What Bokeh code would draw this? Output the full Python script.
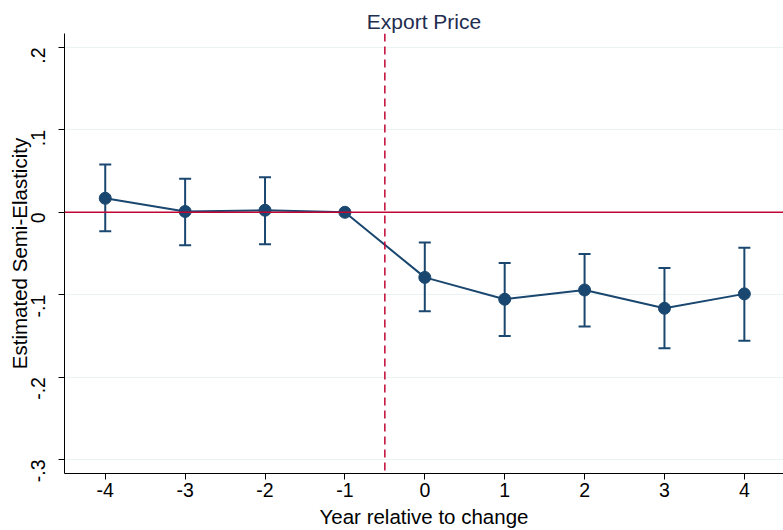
import math
from bokeh.plotting import figure
from bokeh.models import Range1d, FixedTicker, ColumnDataSource, Whisker, TeeHead, Span
from bokeh.embed import file_html
from bokeh.resources import INLINE

# Data
years = [-4, -3, -2, -1, 0, 1, 2, 3, 4]
coef = [0.017, 0.001, 0.0025, 0.0, -0.079, -0.1055, -0.0943, -0.1165, -0.099]
ci_low = [-0.023, -0.040, -0.0387, None, -0.120, -0.150, -0.1386, -0.165, -0.156]
ci_high = [0.058, 0.0406, 0.0425, None, -0.0366, -0.0614, -0.0506, -0.0675, -0.043]
y_ticks = [-0.3, -0.2, -0.1, 0.0, 0.1, 0.2]
y_tick_labels = ["-.3", "-.2", "-.1", "0", ".1", ".2"]
x_ticks = [-4, -3, -2, -1, 0, 1, 2, 3, 4]
x_tick_labels = ["-4", "-3", "-2", "-1", "0", "1", "2", "3", "4"]
title_text = "Export Price"
x_label = "Year relative to change"
y_label = "Estimated Semi-Elasticity"
event_line = -0.5

NAVY = "#1a476f"
RED = "#c10534"
FONT = "Liberation Sans"

p = figure(width=783, height=530, output_backend="svg", toolbar_location=None,
           x_range=Range1d(-4.51, 4.49), y_range=Range1d(-0.317, 0.217),
           min_border_left=64, min_border_right=0, min_border_bottom=53, min_border_top=33)
p.outline_line_color = None
p.background_fill_color = "white"
p.border_fill_color = "white"

p.title.text = title_text
p.title.align = "center"
p.title.text_font = FONT
p.title.text_font_size = "21px"
p.title.text_font_style = "normal"
p.title.text_color = "#1e2d50"
p.title.offset = 0
p.title.standoff = 1

# axes
for ax in (p.xaxis[0], p.yaxis[0]):
    ax.axis_line_color = "#000000"
    ax.axis_line_width = 1
    ax.major_tick_line_color = "#000000"
    ax.major_tick_out = 6
    ax.major_tick_in = 0
    ax.minor_tick_line_color = None
    ax.major_label_text_font = FONT
    ax.major_label_text_font_size = "19.5px"
    ax.major_label_text_color = "#000000"
    ax.axis_label_text_font = FONT
    ax.axis_label_text_font_size = "20.5px"
    ax.axis_label_text_font_style = "normal"
    ax.axis_label_text_color = "#000000"

p.xaxis.ticker = FixedTicker(ticks=x_ticks)
p.xaxis.major_label_overrides = {t: l for t, l in zip(x_ticks, x_tick_labels)}
p.xaxis.axis_label = x_label
p.xaxis.major_label_standoff = 3
p.xaxis.axis_label_standoff = 5

p.yaxis.ticker = FixedTicker(ticks=y_ticks)
p.yaxis.major_label_overrides = {t: l for t, l in zip(y_ticks, y_tick_labels)}
p.yaxis.major_label_orientation = math.pi / 2
p.yaxis.axis_label = y_label
p.yaxis.major_label_standoff = 20
p.yaxis.axis_label_standoff = -9

p.xgrid.grid_line_color = None
p.ygrid.grid_line_color = "#eaf2f3"
p.ygrid.grid_line_width = 1

# reference lines
p.add_layout(Span(location=0, dimension="width", line_color=RED, line_width=1.5))
p.add_layout(Span(location=event_line, dimension="height", line_color=RED, line_width=1.5,
                  line_dash="8 5"))

# error bars
wx = [x for x, lo in zip(years, ci_low) if lo is not None]
wlo = [lo for lo in ci_low if lo is not None]
whi = [hi for hi in ci_high if hi is not None]
wsrc = ColumnDataSource(dict(x=wx, lower=wlo, upper=whi))
p.add_layout(Whisker(source=wsrc, base="x", lower="lower", upper="upper",
                     line_color=NAVY, line_width=2,
                     lower_head=TeeHead(size=12, line_color=NAVY, line_width=2),
                     upper_head=TeeHead(size=12, line_color=NAVY, line_width=2)))

src = ColumnDataSource(dict(x=years, y=coef))
p.line("x", "y", source=src, line_color=NAVY, line_width=2)
p.scatter("x", "y", source=src, size=12, fill_color=NAVY, line_color=NAVY)

open("out.html", "w").write(file_html(p, INLINE))
